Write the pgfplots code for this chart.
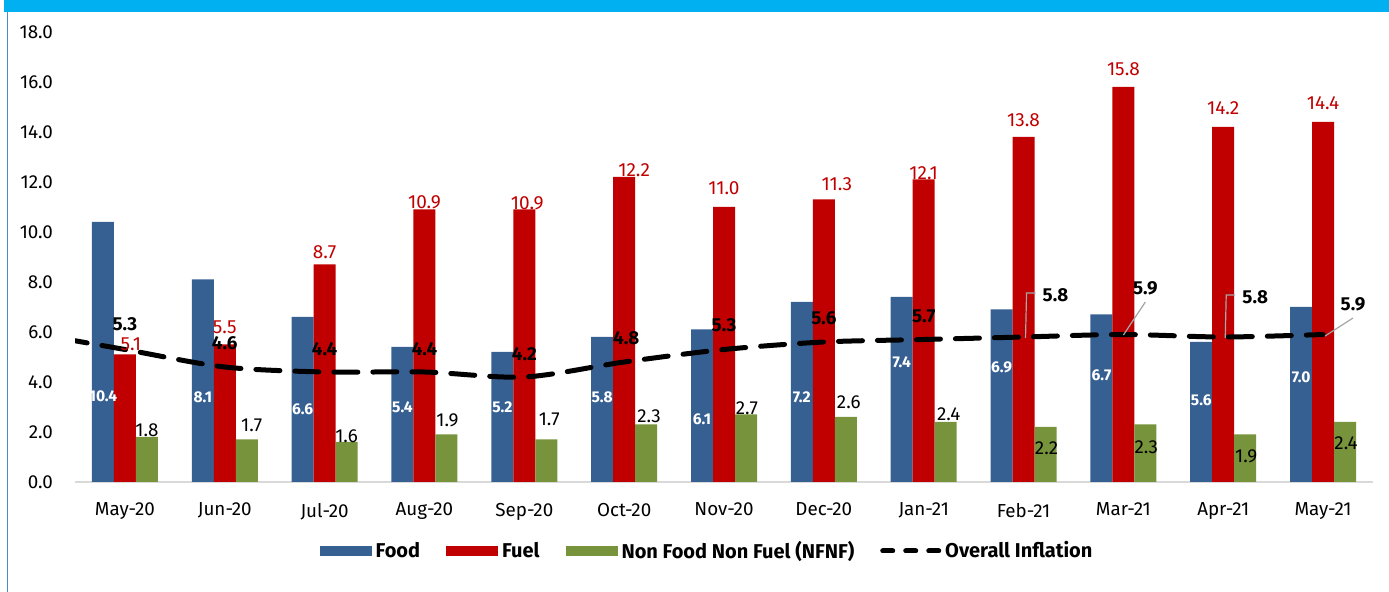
\documentclass[border=0pt]{standalone}
\usepackage{fontspec}
\setmainfont{Fira Sans}
\usepackage{pgfplots}
\usepackage{pgfplotstable}
\pgfplotsset{compat=1.18}

\definecolor{foodc}{HTML}{376092}
\definecolor{fuelc}{HTML}{C00000}
\definecolor{nfnfc}{HTML}{77933C}
\definecolor{bandc}{HTML}{00B0F0}
\definecolor{framec}{HTML}{4A8AC9}
\definecolor{axisc}{HTML}{D9D9D9}
\definecolor{leadc}{HTML}{A6A6A6}

% monthly values
\pgfplotstableread{
x  food fuel nfnf
0  10.4  5.1 1.8
1   8.1  5.5 1.7
2   6.6  8.7 1.6
3   5.4 10.9 1.9
4   5.2 10.9 1.7
5   5.8 12.2 2.3
6   6.1 11.0 2.7
7   7.2 11.3 2.6
8   7.4 12.1 2.4
9   6.9 13.8 2.2
10  6.7 15.8 2.3
11  5.6 14.2 1.9
12  7.0 14.4 2.4
}\data

% label positions, as placed on the chart
\pgfplotstableread{
x     y    l
-0.22 3.44 10.4
0.78  3.40 8.1
1.78  2.92 6.6
2.78  2.98 5.4
3.78  2.98 5.2
4.78  3.38 5.8
5.78  2.52 6.1
6.78  3.38 7.2
7.78  4.80 7.4
8.78  4.59 6.9
9.78  4.27 6.7
10.78 3.25 5.6
11.78 4.18 7.0
}\foodlab

\pgfplotstableread{
x     y     l
0.06  5.52  5.1
1.00  6.20  5.5
2.00  9.20  8.7
3.00  11.20 10.9
4.03  11.14 10.9
5.10  12.48 12.2
6.00  11.76 11.0
7.13  11.92 11.3
8.00  12.36 12.1
9.00  14.48 13.8
10.00 16.52 15.8
11.00 14.96 14.2
12.00 15.16 14.4
}\fuellab

\pgfplotstableread{
x     y    l
0.22  2.08 1.8
1.27  2.28 1.7
2.22  1.82 1.6
3.23  2.48 1.9
4.25  2.50 1.7
5.25  2.65 2.3
6.23  2.95 2.7
7.25  3.18 2.6
8.25  2.71 2.4
9.23  1.36 2.2
10.23 1.40 2.3
11.23 1.04 1.9
12.23 1.54 2.4
}\nfnflab

\pgfplotstableread{
x     y    l
0.00  6.32 5.3
1.00  5.56 4.6
2.00  5.32 4.4
3.00  5.31 4.4
4.00  5.11 4.2
5.02  5.77 4.8
6.00  6.26 5.3
7.00  6.55 5.6
8.00  6.61 5.7
9.32  7.48 5.8
10.22 7.75 5.9
11.32 7.41 5.8
12.30 7.11 5.9
}\infllab

\begin{document}
\begin{tikzpicture}
\useasboundingbox (0,0) rectangle (694.5bp,296bp);
\fill[bandc] (2bp,289.9bp) rectangle (694.5bp,296bp);
\draw[framec, line width=0.7bp] (3.6bp,0) -- (3.6bp,289.9bp);

\begin{axis}[
  at={(37.5bp,55bp)}, anchor=south west,
  scale only axis, width=649bp, height=225bp,
  xmin=-0.5, xmax=12.5, ymin=0, ymax=18,
  xtick={0,...,12},
  xticklabels={May-20,Jun-20,Jul-20,Aug-20,Sep-20,Oct-20,Nov-20,Dec-20,Jan-21,Feb-21,Mar-21,Apr-21,May-21},
  ytick={0,2,...,18},
  axis x line*=bottom, axis y line*=left,
  y axis line style={draw=none},
  x axis line style={draw=axisc, line width=1bp},
  major tick length=0pt,
  tick style={draw=none},
  /pgf/number format/assume math mode=true,
  yticklabel style={xshift=-7.5bp, font=\fontsize{9.4bp}{11bp}\selectfont},
  y tick label style={/pgf/number format/fixed, /pgf/number format/fixed zerofill, /pgf/number format/precision=1},
  xticklabel style={yshift=-7bp, font=\fontsize{9.4bp}{11bp}\selectfont},
  legend style={at={(0.4877,-0.1533)}, anchor=center, draw=none, fill=none,
    legend columns=4, font=\fontsize{10bp}{12bp}\selectfont\bfseries,
    /tikz/every even column/.append style={column sep=11bp}},
  legend image code/.code={\fill[#1] (0bp,-2.6bp) rectangle (26bp,2.6bp);},
  label node/.style={only marks, mark=none, forget plot, nodes near coords,
    point meta=explicit symbolic},
]
\addplot[ybar, bar width=11bp, bar shift=-11bp, fill=foodc, draw=none] table[x=x, y=food] {\data};
\addplot[ybar, bar width=11bp, bar shift=0bp, fill=fuelc, draw=none] table[x=x, y=fuel] {\data};
\addplot[ybar, bar width=11bp, bar shift=11bp, fill=nfnfc, draw=none] table[x=x, y=nfnf] {\data};
\addplot[black, line width=2.5bp, line cap=round, dash pattern=on 12bp off 7.5bp,
  smooth, tension=0.5,
  legend image code/.code={\draw[black, line width=2.5bp, line cap=round, dash pattern=on 5bp off 6.5bp] (0bp,0) -- (28bp,0);}]
  coordinates {(-1,6.0) (0,5.3) (1,4.6) (2,4.4) (3,4.4) (4,4.2) (5,4.8) (6,5.3) (7,5.6) (8,5.7) (9,5.8) (10,5.9) (11,5.8) (12,5.9)};
\legend{Food, Fuel, Non Food Non Fuel (NFNF), Overall Inflation}

% leader lines
\addplot[forget plot, leadc, line width=0.6bp] coordinates {(9.02,5.76) (9.03,7.56) (9.12,7.56)};
\addplot[forget plot, leadc, line width=0.6bp] coordinates {(10.0,5.88) (10.22,7.2)};
\addplot[forget plot, leadc, line width=0.6bp] coordinates {(11.02,5.76) (11.03,7.48) (11.12,7.48)};
\addplot[forget plot, leadc, line width=0.6bp] coordinates {(12.02,5.84) (12.3,6.56)};

% data labels
\addplot[label node, nodes near coords style={anchor=center, white, font=\fontsize{7.8bp}{9bp}\selectfont\bfseries}]
  table[x=x, y=y, meta=l] {\foodlab};
\addplot[label node, nodes near coords style={anchor=center, fuelc, font=\fontsize{9.5bp}{11bp}\selectfont}]
  table[x=x, y=y, meta=l] {\fuellab};
\addplot[label node, nodes near coords style={anchor=center, black, font=\fontsize{9.4bp}{11bp}\selectfont}]
  table[x=x, y=y, meta=l] {\nfnflab};
\addplot[label node, nodes near coords style={anchor=center, black, font=\fontsize{9.4bp}{11bp}\selectfont\bfseries}]
  table[x=x, y=y, meta=l] {\infllab};
\end{axis}
\end{tikzpicture}
\end{document}
